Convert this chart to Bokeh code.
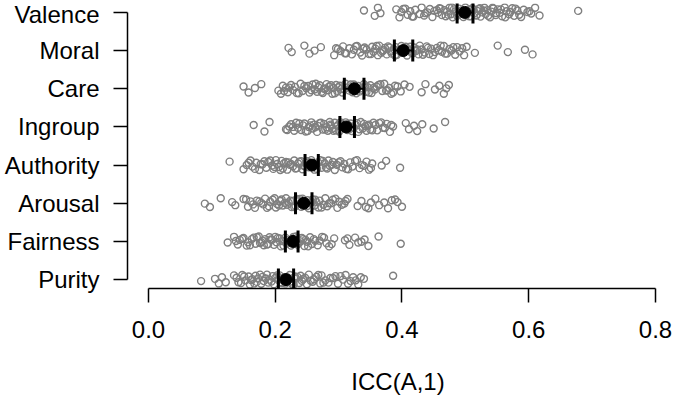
import math
from bokeh.plotting import figure
from bokeh.models import FixedTicker, PrintfTickFormatter, Range1d
from bokeh.embed import file_html
from bokeh.resources import INLINE

# ---------------- data ----------------
categories = ["Valence", "Moral", "Care", "Ingroup", "Authority", "Arousal", "Fairness", "Purity"]

valence = [0.340, 0.357, 0.362, 0.366, 0.391, 0.396, 0.399, 0.405, 0.409, 0.413, 0.418, 0.421, 0.428,
           0.431, 0.435, 0.440, 0.444, 0.448, 0.451, 0.457, 0.459, 0.463, 0.467, 0.469, 0.471, 0.475,
           0.477, 0.480, 0.482, 0.485, 0.487, 0.490, 0.492, 0.494, 0.497, 0.500, 0.502, 0.504, 0.507,
           0.509, 0.511, 0.514, 0.517, 0.519, 0.521, 0.524, 0.527, 0.530, 0.532, 0.535, 0.539, 0.541,
           0.544, 0.548, 0.551, 0.554, 0.558, 0.562, 0.565, 0.569, 0.574, 0.577, 0.582, 0.588, 0.592,
           0.598, 0.604, 0.610, 0.617, 0.678,
           0.402, 0.416, 0.437, 0.455, 0.461, 0.473, 0.479, 0.488, 0.495, 0.506, 0.513, 0.518, 0.523,
           0.529, 0.536, 0.543, 0.549, 0.556, 0.563, 0.571, 0.579, 0.585, 0.601]
moral = [0.221, 0.226, 0.246, 0.254, 0.262, 0.272, 0.293, 0.299, 0.303, 0.307, 0.312, 0.317, 0.321,
         0.324, 0.329, 0.334, 0.337, 0.341, 0.344, 0.348, 0.353, 0.355, 0.358, 0.362, 0.364, 0.367,
         0.371, 0.373, 0.376, 0.378, 0.382, 0.384, 0.387, 0.390, 0.392, 0.395, 0.399, 0.401, 0.404,
         0.408, 0.410, 0.413, 0.417, 0.419, 0.422, 0.426, 0.428, 0.431, 0.436, 0.439, 0.443, 0.446,
         0.449, 0.455, 0.458, 0.463, 0.466, 0.471, 0.475, 0.481, 0.484, 0.491, 0.495, 0.502, 0.515,
         0.551, 0.567, 0.594, 0.606,
         0.296, 0.310, 0.327, 0.339, 0.351, 0.360, 0.369, 0.380, 0.389, 0.397, 0.406, 0.415, 0.424,
         0.433, 0.441, 0.452, 0.461, 0.468, 0.478, 0.487, 0.498]
care = [0.150, 0.158, 0.168, 0.178, 0.205, 0.209, 0.212, 0.217, 0.220, 0.225, 0.228, 0.231, 0.237,
        0.240, 0.243, 0.249, 0.252, 0.254, 0.259, 0.262, 0.266, 0.268, 0.270, 0.275, 0.277, 0.281,
        0.283, 0.285, 0.290, 0.292, 0.296, 0.298, 0.302, 0.304, 0.306, 0.311, 0.313, 0.317, 0.319,
        0.322, 0.326, 0.328, 0.331, 0.335, 0.337, 0.340, 0.344, 0.346, 0.350, 0.352, 0.357, 0.360,
        0.363, 0.369, 0.372, 0.377, 0.380, 0.386, 0.393, 0.398, 0.404, 0.412, 0.431, 0.437, 0.452,
        0.459, 0.466, 0.470, 0.474,
        0.214, 0.222, 0.234, 0.246, 0.257, 0.264, 0.273, 0.279, 0.288, 0.294, 0.300, 0.309, 0.324,
        0.333, 0.342, 0.348, 0.355, 0.366, 0.375, 0.383, 0.389]
ingroup = [0.166, 0.183, 0.191, 0.217, 0.222, 0.225, 0.230, 0.233, 0.236, 0.241, 0.244, 0.246, 0.251,
           0.253, 0.257, 0.259, 0.261, 0.266, 0.268, 0.270, 0.275, 0.277, 0.281, 0.283, 0.286, 0.288,
           0.290, 0.294, 0.296, 0.299, 0.301, 0.304, 0.306, 0.309, 0.311, 0.314, 0.316, 0.319, 0.321,
           0.324, 0.327, 0.329, 0.333, 0.335, 0.338, 0.342, 0.344, 0.348, 0.350, 0.355, 0.358, 0.361,
           0.367, 0.370, 0.376, 0.381, 0.386, 0.406, 0.411, 0.419, 0.424, 0.432, 0.450, 0.468,
           0.219, 0.228, 0.238, 0.248, 0.255, 0.263, 0.272, 0.279, 0.287, 0.292, 0.298, 0.303, 0.318,
           0.331, 0.340, 0.346, 0.353, 0.364, 0.373, 0.383]
authority = [0.128, 0.150, 0.155, 0.161, 0.164, 0.170, 0.175, 0.177, 0.183, 0.186, 0.189, 0.195, 0.197,
             0.201, 0.203, 0.206, 0.210, 0.212, 0.214, 0.219, 0.221, 0.223, 0.228, 0.230, 0.234, 0.236,
             0.238, 0.243, 0.245, 0.249, 0.251, 0.253, 0.257, 0.260, 0.264, 0.266, 0.268, 0.273, 0.275,
             0.278, 0.282, 0.284, 0.286, 0.291, 0.294, 0.297, 0.303, 0.306, 0.309, 0.315, 0.318, 0.322,
             0.329, 0.333, 0.337, 0.344, 0.348, 0.353, 0.368, 0.375, 0.397,
             0.158, 0.168, 0.180, 0.192, 0.199, 0.208, 0.217, 0.225, 0.232, 0.241, 0.247, 0.255, 0.262,
             0.271, 0.280, 0.289, 0.300, 0.312, 0.326, 0.340, 0.351]
arousal = [0.089, 0.097, 0.114, 0.132, 0.137, 0.150, 0.157, 0.161, 0.168, 0.171, 0.178, 0.181, 0.184,
           0.190, 0.192, 0.196, 0.201, 0.203, 0.208, 0.210, 0.212, 0.217, 0.219, 0.221, 0.226, 0.228,
           0.232, 0.234, 0.236, 0.241, 0.243, 0.247, 0.251, 0.253, 0.256, 0.259, 0.262, 0.265, 0.268,
           0.270, 0.276, 0.279, 0.282, 0.288, 0.291, 0.298, 0.301, 0.309, 0.314, 0.330, 0.336, 0.343,
           0.351, 0.358, 0.364, 0.378, 0.384, 0.393, 0.400,
           0.154, 0.165, 0.175, 0.187, 0.199, 0.206, 0.215, 0.224, 0.230, 0.239, 0.245, 0.250, 0.257,
           0.263, 0.273, 0.285, 0.295, 0.305, 0.311, 0.347, 0.372, 0.389]
fairness = [0.125, 0.135, 0.141, 0.144, 0.150, 0.155, 0.157, 0.163, 0.166, 0.169, 0.174, 0.176, 0.180,
            0.182, 0.184, 0.189, 0.191, 0.193, 0.198, 0.200, 0.202, 0.207, 0.209, 0.211, 0.216, 0.218,
            0.220, 0.225, 0.227, 0.231, 0.233, 0.235, 0.240, 0.242, 0.246, 0.248, 0.250, 0.255, 0.258,
            0.261, 0.267, 0.270, 0.274, 0.281, 0.285, 0.293, 0.310, 0.317, 0.326, 0.331, 0.341, 0.347,
            0.363, 0.398,
            0.138, 0.148, 0.160, 0.171, 0.178, 0.187, 0.195, 0.204, 0.213, 0.222, 0.229, 0.237, 0.244,
            0.252, 0.263, 0.277, 0.289, 0.314, 0.336]
purity = [0.083, 0.105, 0.111, 0.116, 0.122, 0.135, 0.139, 0.146, 0.148, 0.153, 0.158, 0.160, 0.164,
          0.169, 0.171, 0.173, 0.178, 0.180, 0.182, 0.187, 0.189, 0.191, 0.196, 0.198, 0.200, 0.205,
          0.207, 0.209, 0.214, 0.216, 0.218, 0.223, 0.225, 0.229, 0.231, 0.233, 0.238, 0.240, 0.242,
          0.247, 0.250, 0.253, 0.259, 0.261, 0.265, 0.271, 0.273, 0.279, 0.284, 0.287, 0.295, 0.299,
          0.307, 0.311, 0.319, 0.323, 0.331, 0.340, 0.386,
          0.142, 0.151, 0.162, 0.167, 0.176, 0.185, 0.194, 0.203, 0.211, 0.220, 0.227, 0.235, 0.244,
          0.256, 0.268, 0.276, 0.291, 0.303, 0.315, 0.327, 0.335]

series = [valence, moral, care, ingroup, authority, arousal, fairness, purity]

means = [0.499, 0.402, 0.325, 0.312, 0.258, 0.245, 0.228, 0.217]
ci_lo = [0.487, 0.388, 0.309, 0.302, 0.247, 0.232, 0.216, 0.205]
ci_hi = [0.512, 0.417, 0.340, 0.325, 0.268, 0.258, 0.236, 0.229]

# vertical jitter of the individual points (in category units)
jitter = [0.05, -0.09, 0.12, -0.02, 0.08, -0.13, 0.01, 0.10, -0.06, 0.03, -0.11, 0.07, -0.04, 0.13,
          -0.08, 0.00, 0.09, -0.12, 0.04, -0.01, 0.11, -0.07, 0.06, -0.10, 0.02, 0.12, -0.05, -0.13,
          0.08, 0.03, -0.09, 0.10, -0.03, 0.05, -0.12, 0.13, -0.06, 0.01, 0.07, -0.10, 0.11, -0.02,
          -0.08, 0.04, 0.09, -0.11, 0.00, 0.12, -0.04, 0.06, -0.13, 0.02, 0.10, -0.07, 0.08, -0.01,
          -0.10, 0.13, 0.03, -0.05, 0.11, -0.09, 0.05, -0.12, 0.07, 0.01, -0.03, 0.12, -0.08, 0.04,
          0.09, -0.11, -0.02, 0.06, 0.10, -0.06, 0.13, -0.04, 0.02, -0.10, 0.06, -0.07, 0.11]

x_ticks = [0.0, 0.2, 0.4, 0.6, 0.8]

# ---------------- figure ----------------
FONT = "Liberation Sans"
n = len(categories)
ypos = [n - i for i in range(n)]

p = figure(width=672, height=397, output_backend="svg", toolbar_location=None,
           x_range=Range1d(-0.0331, 0.8205), y_range=Range1d(0.7667, 8.2333),
           min_border_left=127, min_border_right=4, min_border_top=3, min_border_bottom=106)
p.outline_line_color = None
p.grid.visible = False
p.background_fill_color = "white"
p.border_fill_color = "white"

# points
px, py = [], []
for k, (vals, yc) in enumerate(zip(series, ypos)):
    for i, v in enumerate(vals):
        px.append(v)
        py.append(yc + jitter[(i + 11 * k) % len(jitter)])
p.scatter(px, py, marker="circle", size=7, fill_color=None, line_color="#7f7f7f", line_width=1.4)

# CI and means
p.segment(ci_lo, ypos, ci_hi, ypos, line_color="black", line_width=2)
p.scatter(ci_lo + ci_hi, ypos + ypos, marker="dash", angle=math.pi / 2, size=22,
          line_color="black", line_width=3)
p.scatter(means, ypos, marker="circle", size=12, fill_color="black", line_color="black")

# axes
for ax in (p.xaxis[0], p.yaxis[0]):
    ax.axis_line_width = 1.5
    ax.major_tick_line_width = 1.5
    ax.major_tick_in = 0
    ax.major_tick_out = 14
    ax.minor_tick_line_color = None
    ax.major_label_text_font = FONT
    ax.major_label_text_font_size = "24px"
    ax.major_label_text_color = "black"
    ax.axis_line_color = "black"
    ax.major_tick_line_color = "black"

xa = p.xaxis[0]
xa.bounds = (0, 0.8)
xa.ticker = FixedTicker(ticks=x_ticks)
xa.formatter = PrintfTickFormatter(format="%.1f")
xa.major_label_standoff = 18
xa.axis_label = "ICC(A,1)"
xa.axis_label_text_font = FONT
xa.axis_label_text_font_style = "normal"
xa.axis_label_text_font_size = "24px"
xa.axis_label_text_color = "black"
xa.axis_label_standoff = 27

ya = p.yaxis[0]
ya.bounds = (1, n)
ya.ticker = FixedTicker(ticks=ypos)
ya.major_label_overrides = {yc: c for yc, c in zip(ypos, categories)}
ya.major_label_standoff = 14

open("out.html", "w").write(file_html(p, INLINE))
